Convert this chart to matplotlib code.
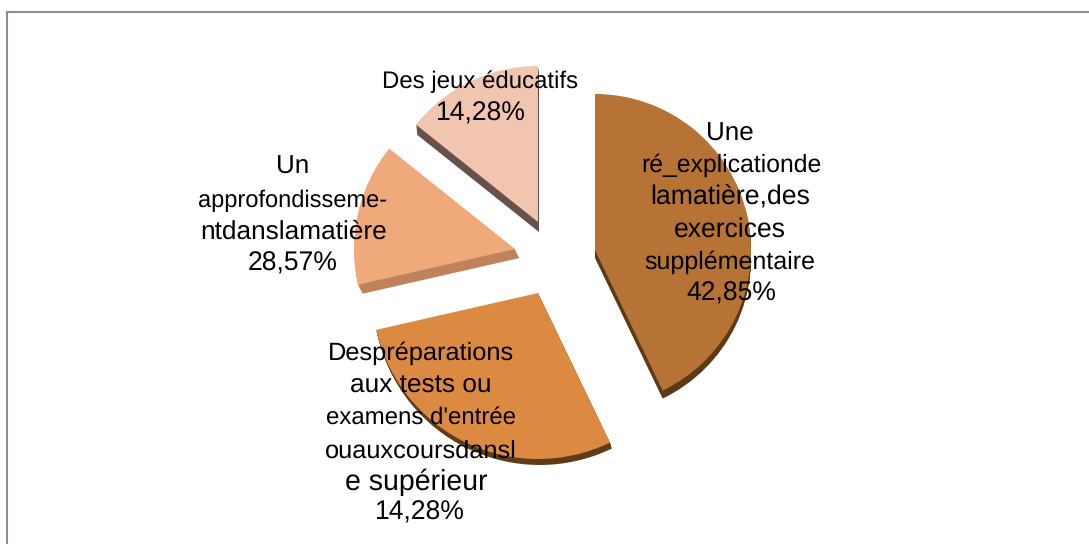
import matplotlib
matplotlib.use("Agg")
import matplotlib.pyplot as plt
from matplotlib.patches import Wedge

plt.rcParams['font.family'] = ['Liberation Sans', 'DejaVu Sans']
plt.rcParams['text.hinting'] = 'no_hinting'

# Slice sizes, clockwise from the top (%)
slice_values = [42.85, 28.57, 14.28, 14.28]
top_colors = ['#B77235', '#DC8942', '#F0A97A', '#F2C5B1']
side_colors = ['#5B3A18', '#5F3C18', '#BE835C', '#66524A']

# Label text, line by line, as printed in the source
label_lines = [
    ["Une", "ré_explicationde", "lamatière,des", "exercices", "supplémentaire", "42,85%"],
    ["Despréparations", "aux tests ou", "examens d'entrée", "ouauxcoursdansl", "e supérieur", "14,28%"],
    ["Un", "approfondisseme-", "ntdanslamatière", "28,57%"],
    ["Des jeux éducatifs", "14,28%"],
]

# Layout (pixels, y measured from the top of the image)
W, H = 1089, 544
apex = [(595, 250), (538, 293), (515, 249), (538, 222)]
radius = [156, 166, 161, 156]
depth = [8, 6, 9, 10]
side_shift = [0.0, 0.3, 0.5, 0.1]
label_y = [[134, 165, 198, 230, 262, 294],
           [353, 386, 418, 451, 482, 513],
           [167, 201, 232, 264],
           [82, 114]]
label_px = [[26, 24.8, 26.6, 26.5, 25, 26.5],
            [25.4, 26.3, 24, 25.4, 28.5, 26.5],
            [26, 23.6, 26.2, 26.5],
            [24, 26.5]]
line_x = [[730, 731, 730, 730, 730, 731],
          [421, 421, 421, 421, 416, 420],
          [293, 293, 294, 293],
          [480, 481]]

fig = plt.figure(figsize=(W / 100, H / 100), dpi=100)
ax = fig.add_axes([0, 0, 1, 1])
ax.set_xlim(0, W)
ax.set_ylim(0, H)
ax.axis('off')

# Frame: left and top edges only reach the picture
ax.plot([7, 7, W], [0, H - 12, H - 12], color='#8C8C8C', lw=1.5,
        solid_joinstyle='miter', zorder=1)

total = sum(slice_values)
start = 0.0
for i, value in enumerate(slice_values):
    sweep = value / total * 360
    theta1 = 90 - (start + sweep)
    theta2 = 90 - start
    cx, cy = apex[i][0], H - apex[i][1]
    for d in range(depth[i], 0, -1):
        ax.add_patch(Wedge((cx + d * side_shift[i], cy - d), radius[i], theta1, theta2,
                           facecolor=side_colors[i], edgecolor='none', zorder=2))
    ax.add_patch(Wedge((cx, cy), radius[i], theta1, theta2,
                       facecolor=top_colors[i], edgecolor='none', zorder=3))
    start += sweep

for lines, xs, ys, sizes in zip(label_lines, line_x, label_y, label_px):
    for text, x, y, px in zip(lines, xs, ys, sizes):
        ax.text(x, H - y, text, ha='center', va='center', color='black',
                fontsize=px * 72 / 100, zorder=5)

fig.savefig('out.png', dpi=100, facecolor='white')
